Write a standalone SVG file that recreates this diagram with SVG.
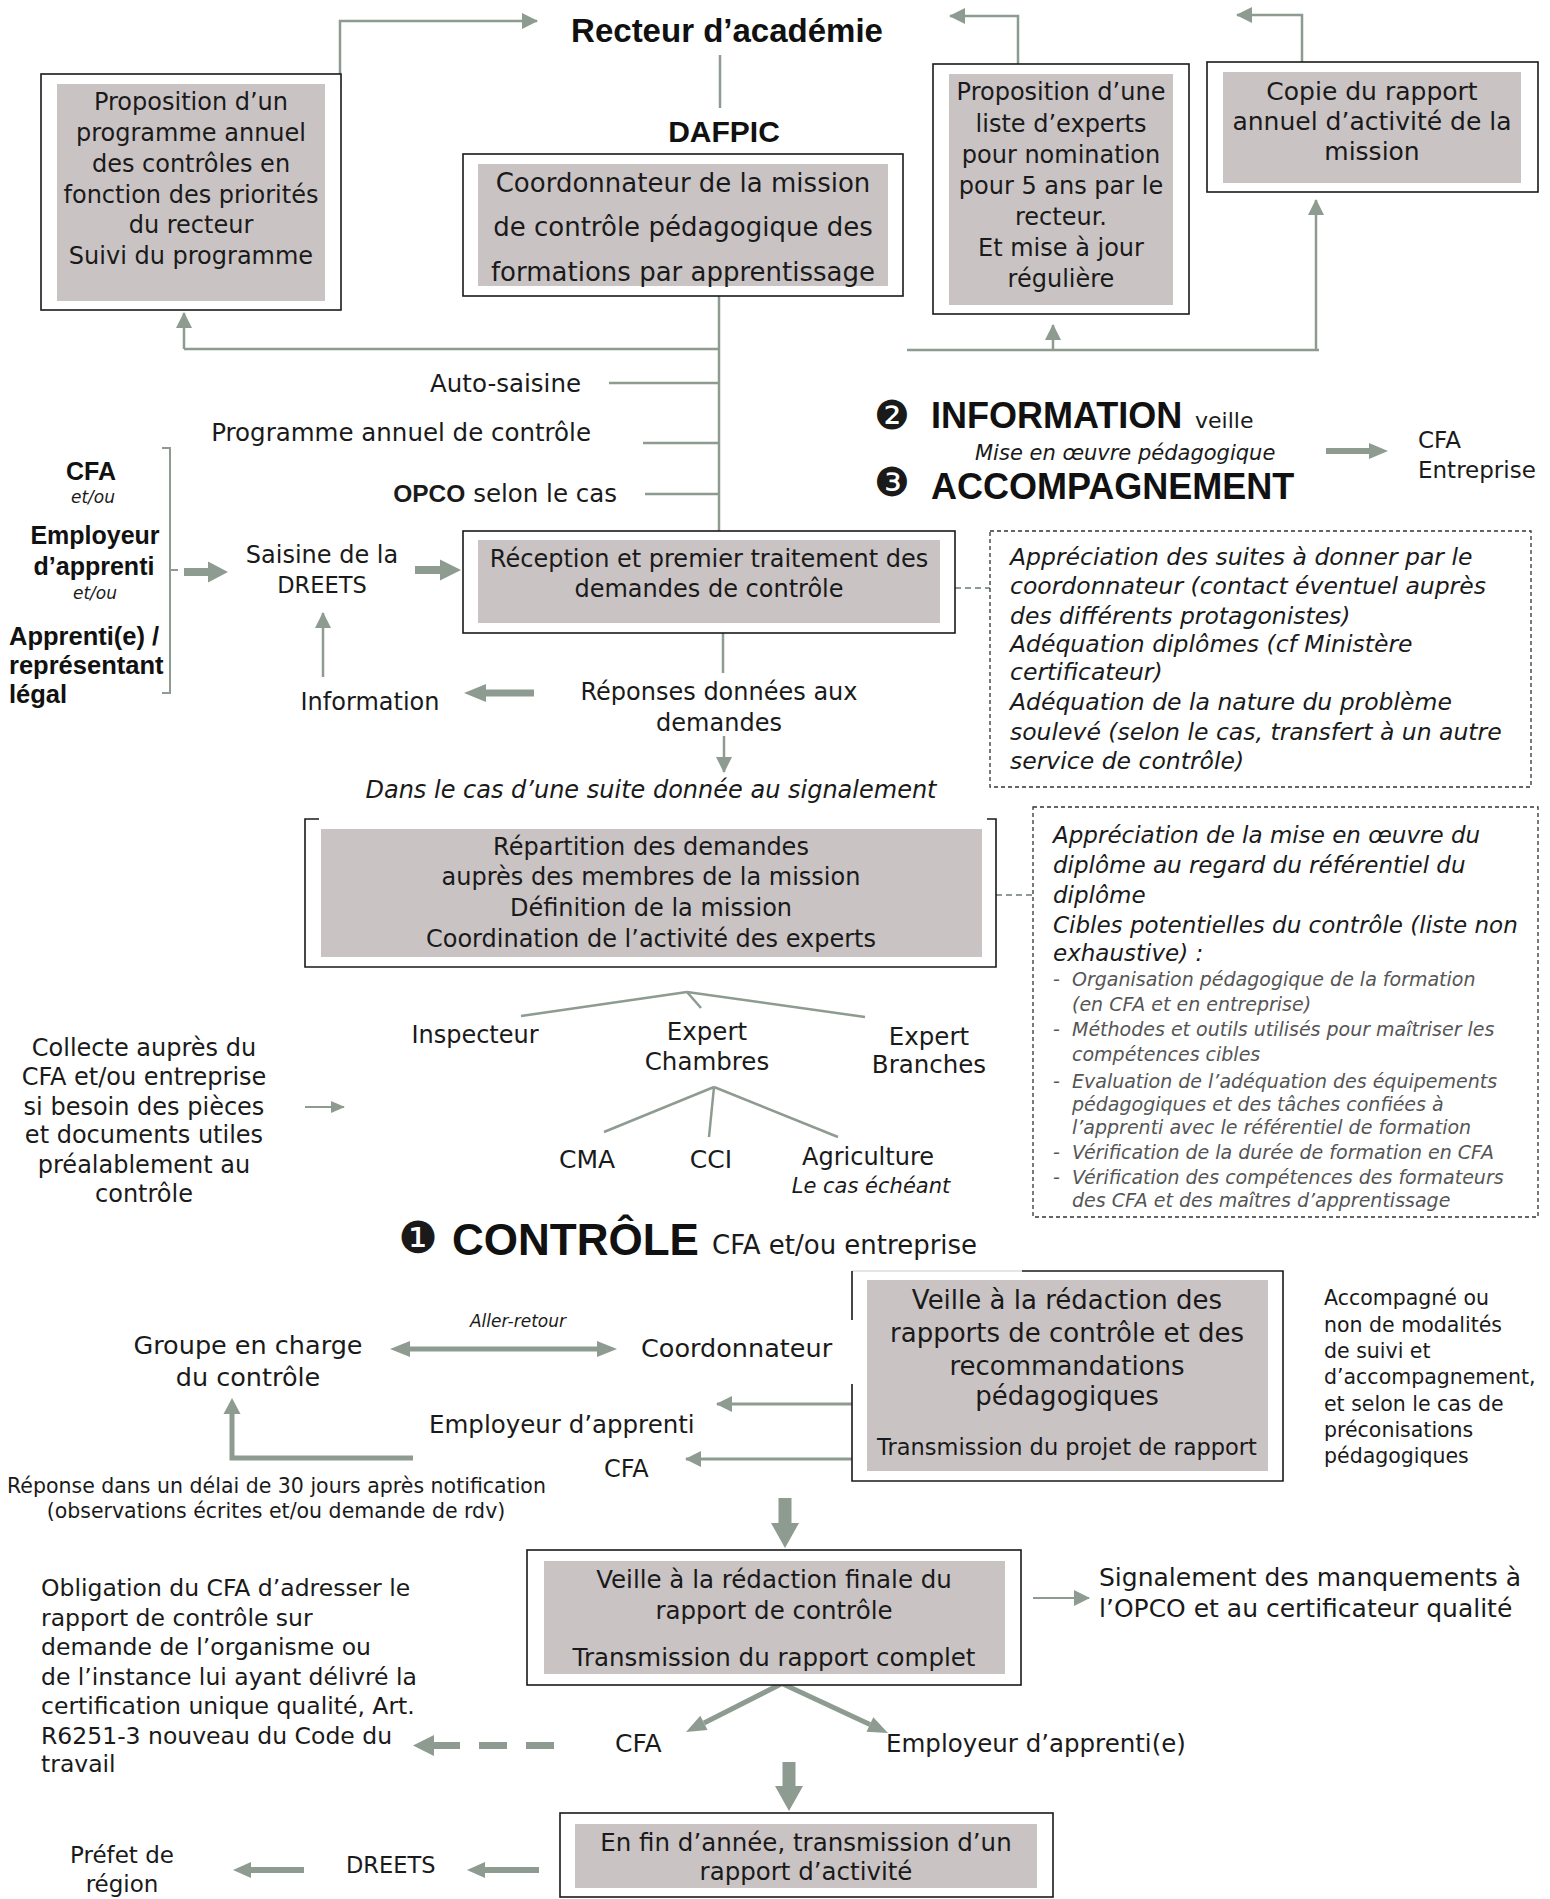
<svg xmlns="http://www.w3.org/2000/svg" width="1550" height="1899" viewBox="0 0 1550 1899">
<defs>
<style>
text{font-family:"DejaVu Sans","Liberation Sans",sans-serif;fill:#1a1a1a}
.b{font-family:"Liberation Sans",Arial,sans-serif;font-weight:bold;fill:#111}
.i{font-style:italic}
.c{text-anchor:middle}
.e{text-anchor:end}
.box{fill:#fff;stroke:#1a1a1a;stroke-width:1.6}
.open{fill:none;stroke:#1a1a1a;stroke-width:1.6}
.gf{fill:#c9c3c4}
.ln{stroke:#8d9b91;stroke-width:2.5;fill:none}
.ar{fill:#8d9b91}
.dbox{fill:none;stroke:#333;stroke-width:1.3;stroke-dasharray:4 3}
.dl{stroke:#8d9b91;stroke-width:2;stroke-dasharray:6 4;fill:none}
.g5{fill:#555}
.w2{stroke-width:2}
.w3{stroke-width:3}
.w5{stroke-width:5}
.w7{stroke-width:7}
</style>
<marker id="ah" markerUnits="userSpaceOnUse" markerWidth="16" markerHeight="16" viewBox="0 0 16 16" refX="15" refY="8" orient="auto"><path d="M0,0 L16,8 L0,16 Z" fill="#8d9b91"/></marker>
<marker id="ahs" markerUnits="userSpaceOnUse" markerWidth="14" markerHeight="12" viewBox="0 0 14 12" refX="13" refY="6" orient="auto"><path d="M0,0 L14,6 L0,12 Z" fill="#8d9b91"/></marker>
</defs>
<rect width="1550" height="1899" fill="#fff"/>

<g id="connectors">
  <line class="ln" x1="720" y1="55" x2="720" y2="108"/>
  <polyline class="ln" points="340,86 340,21 537,21" marker-end="url(#ah)"/>
  <polyline class="ln" points="1018,64 1018,16 950,16" marker-end="url(#ah)"/>
  <polyline class="ln" points="1302,62 1302,15 1237,15" marker-end="url(#ah)"/>
  <line class="ln" x1="719" y1="296" x2="719" y2="531"/>
  <line class="ln" x1="184" y1="349" x2="719" y2="349"/>
  <line class="ln" x1="184" y1="349" x2="184" y2="313" marker-end="url(#ah)"/>
  <line class="ln" x1="907" y1="350" x2="1319" y2="350"/>
  <line class="ln" x1="1053" y1="350" x2="1053" y2="325" marker-end="url(#ah)"/>
  <line class="ln" x1="1316" y1="350" x2="1316" y2="200" marker-end="url(#ah)"/>
  <line class="ln" x1="609" y1="383" x2="719" y2="383"/>
  <line class="ln" x1="643" y1="443" x2="719" y2="443"/>
  <line class="ln" x1="645" y1="494" x2="719" y2="494"/>
  <path class="ar" d="M184,568 H208 V561.5 L228,572 L208,582.5 V576 H184 Z"/>
  <path class="ar" d="M415,566 H440 V559.5 L461,570 L440,580.5 V574 H415 Z"/>
  <path class="ar" d="M534,689.5 H486 V684 L464,693 L486,702 V696.5 H534 Z"/>
  <path class="ar" d="M1326,448 H1369 V443 L1388,451 L1369,459 V454 H1326 Z"/>
  <line class="ln" x1="323" y1="677" x2="323" y2="613" marker-end="url(#ah)"/>
  <line class="dl" x1="955" y1="588" x2="990" y2="588"/>
  <line class="ln" x1="723" y1="633" x2="723" y2="673"/>
  <line class="ln" x1="724" y1="736" x2="724" y2="772" marker-end="url(#ah)"/>
  <line class="dl" x1="996" y1="895" x2="1033" y2="895"/>
  <line class="ln" x1="687" y1="992" x2="521" y2="1016"/>
  <line class="ln" x1="687" y1="992" x2="701" y2="1008"/>
  <line class="ln" x1="687" y1="992" x2="865" y2="1017"/>
  <line class="ln" x1="714" y1="1087" x2="604" y2="1132"/>
  <line class="ln" x1="714" y1="1087" x2="709" y2="1137"/>
  <line class="ln" x1="714" y1="1087" x2="838" y2="1137"/>
  <line class="ln w2" x1="305" y1="1107" x2="344" y2="1107" marker-end="url(#ahs)"/>
  <path class="ar" d="M390,1349 L410,1341 V1346.5 H597 V1341 L617,1349 L597,1357 V1351.5 H410 V1357 Z"/>
  <line class="ln w3" x1="852" y1="1404" x2="717" y2="1404" marker-end="url(#ah)"/>
  <line class="ln w3" x1="852" y1="1459" x2="686" y2="1459" marker-end="url(#ah)"/>
  <path class="ln w5" d="M413,1458 H232 V1412"/>
  <path class="ar" d="M223.5,1414 L232,1398 L240.5,1414 Z"/>
  <path class="ar" d="M778.5,1498 H791.5 V1523 H799 L785,1548 L771,1523 H778.5 Z"/>
  <line class="ln w2" x1="1033" y1="1598" x2="1089" y2="1598" marker-end="url(#ah)"/>
  <line class="ln w5" x1="781" y1="1684" x2="704" y2="1723"/>
  <path class="ar" d="M686,1732 L707.5,1730.1 L700.3,1715.7 Z"/>
  <line class="ln w5" x1="783" y1="1684" x2="870" y2="1724.5"/>
  <path class="ar" d="M888,1733 L866.5,1731.7 L873.3,1717.3 Z"/>
  <line class="ln w7" x1="554" y1="1745.5" x2="433" y2="1745.5" stroke-dasharray="28 19"/>
  <path class="ar" d="M434,1735 L413,1745.5 L434,1756 Z"/>
  <path class="ar" d="M782.5,1762 H795.5 V1786 H803 L789,1811 L775,1786 H782.5 Z"/>
  <path class="ar" d="M539,1867 H485 V1862 L467,1870 L485,1878 V1873 H539 Z"/>
  <path class="ar" d="M304,1867 H251 V1862 L233,1870 L251,1878 V1873 H304 Z"/>
</g>

<g id="n-recteur">
  <text class="b c" x="727" y="42" font-size="33">Recteur d’académie</text>
</g>

<g id="n-dafpic">
  <text class="b c" x="724" y="142" font-size="30">DAFPIC</text>
  <rect class="box" x="463" y="154" width="440" height="142"/>
  <rect class="gf" x="478" y="164" width="410" height="122"/>
  <text class="c" x="683" y="192" font-size="26">Coordonnateur de la mission</text>
  <text class="c" x="683" y="236" font-size="26">de contrôle pédagogique des</text>
  <text class="c" x="683" y="281" font-size="26">formations par apprentissage</text>
</g>

<g id="n-programme">
  <rect class="box" x="41" y="74" width="300" height="236"/>
  <rect class="gf" x="57" y="84" width="268" height="217"/>
  <text class="c" x="191" y="110" font-size="24">Proposition d’un</text>
  <text class="c" x="191" y="141" font-size="24">programme annuel</text>
  <text class="c" x="191" y="172" font-size="24">des contrôles en</text>
  <text class="c" x="191" y="203" font-size="24">fonction des priorités</text>
  <text class="c" x="191" y="233" font-size="24">du recteur</text>
  <text class="c" x="191" y="264" font-size="24">Suivi du programme</text>
</g>

<g id="n-experts">
  <rect class="box" x="933" y="64" width="256" height="250"/>
  <rect class="gf" x="949" y="74" width="224" height="231"/>
  <text class="c" x="1061" y="100" font-size="24">Proposition d’une</text>
  <text class="c" x="1061" y="132" font-size="24">liste d’experts</text>
  <text class="c" x="1061" y="163" font-size="24">pour nomination</text>
  <text class="c" x="1061" y="194" font-size="24">pour 5 ans par le</text>
  <text class="c" x="1061" y="225" font-size="24">recteur.</text>
  <text class="c" x="1061" y="256" font-size="24">Et mise à jour</text>
  <text class="c" x="1061" y="287" font-size="24">régulière</text>
</g>

<g id="n-copie">
  <rect class="box" x="1207" y="62" width="331" height="130"/>
  <rect class="gf" x="1223" y="72" width="298" height="111"/>
  <text class="c" x="1372" y="100" font-size="25">Copie du rapport</text>
  <text class="c" x="1372" y="130" font-size="25">annuel d’activité de la</text>
  <text class="c" x="1372" y="160" font-size="25">mission</text>
</g>

<g id="n-saisines">
  <text class="e" x="581" y="392" font-size="24.5">Auto-saisine</text>
  <text class="e" x="591" y="441" font-size="24.5">Programme annuel de contrôle</text>
  <text class="e" x="617" y="502" font-size="24.5"><tspan font-family="Liberation Sans, Arial, sans-serif" font-weight="bold">OPCO</tspan> selon le cas</text>
</g>

<g id="n-demandeurs">
  <path class="ln w2" d="M162,448 H170 V693 H162 M170,570 H178"/>
  <text class="b c" x="91" y="480" font-size="25">CFA</text>
  <text class="c i" x="93" y="503" font-size="17">et/ou</text>
  <text class="b c" x="95" y="544" font-size="25">Employeur</text>
  <text class="b c" x="94" y="575" font-size="25">d’apprenti</text>
  <text class="c i" x="95" y="599" font-size="17">et/ou</text>
  <text class="b" x="9" y="645" font-size="25.5">Apprenti(e) /</text>
  <text class="b" x="9" y="674" font-size="25.5">représentant</text>
  <text class="b" x="9" y="703" font-size="25.5">légal</text>
</g>

<g id="n-saisine-dreets">
  <text class="c" x="322" y="563" font-size="24">Saisine de la</text>
  <text class="c" x="322" y="593" font-size="22.5">DREETS</text>
</g>

<g id="n-information">
  <text class="c" x="370" y="710" font-size="24">Information</text>
</g>

<g id="n-reception">
  <rect class="box" x="463" y="531" width="492" height="102"/>
  <rect class="gf" x="478" y="540" width="462" height="83"/>
  <text class="c" x="709" y="567" font-size="24">Réception et premier traitement des</text>
  <text class="c" x="709" y="597" font-size="24">demandes de contrôle</text>
</g>

<g id="n-note1">
  <rect class="dbox" x="990" y="531" width="541" height="256"/>
  <text class="i" x="1010" y="565" font-size="23.5">Appréciation des suites à donner par le</text>
  <text class="i" x="1010" y="594" font-size="23.5">coordonnateur (contact éventuel auprès</text>
  <text class="i" x="1010" y="624" font-size="23.5">des différents protagonistes)</text>
  <text class="i" x="1010" y="652" font-size="23.5">Adéquation diplômes (cf Ministère</text>
  <text class="i" x="1010" y="680" font-size="23.5">certificateur)</text>
  <text class="i" x="1010" y="710" font-size="23.5">Adéquation de la nature du problème</text>
  <text class="i" x="1010" y="740" font-size="23.5">soulevé (selon le cas, transfert à un autre</text>
  <text class="i" x="1010" y="769" font-size="23.5">service de contrôle)</text>
</g>

<g id="n-info-accomp">
  <text class="c" x="892" y="429" font-size="40">❷</text>
  <text class="b" x="931" y="428" font-size="36">INFORMATION</text>
  <text x="1195" y="428" font-size="22">veille</text>
  <text class="i" x="975" y="460" font-size="21">Mise en œuvre pédagogique</text>
  <text class="c" x="892" y="496" font-size="40">❸</text>
  <text class="b" x="931" y="499" font-size="36">ACCOMPAGNEMENT</text>
</g>

<g id="n-cfa-entreprise">
  <text x="1418" y="448" font-size="23">CFA</text>
  <text x="1418" y="478" font-size="23">Entreprise</text>
</g>

<g id="n-reponses">
  <text class="c" x="719" y="700" font-size="24">Réponses données aux</text>
  <text class="c" x="719" y="731" font-size="24">demandes</text>
</g>

<g id="n-suite">
  <text class="c i" x="651" y="798" font-size="24">Dans le cas d’une suite donnée au signalement</text>
</g>

<g id="n-repartition">
  <path class="open" d="M319,819 H305 V967 H996 V819 H987"/>
  <rect class="gf" x="321" y="829" width="661" height="128"/>
  <text class="c" x="651" y="855" font-size="24">Répartition des demandes</text>
  <text class="c" x="651" y="885" font-size="24">auprès des membres de la mission</text>
  <text class="c" x="651" y="916" font-size="24">Définition de la mission</text>
  <text class="c" x="651" y="947" font-size="24">Coordination de l’activité des experts</text>
</g>

<g id="n-note2">
  <rect class="dbox" x="1033" y="807" width="505" height="410"/>
  <text class="i" x="1053" y="843" font-size="23">Appréciation de la mise en œuvre du</text>
  <text class="i" x="1053" y="873" font-size="23">diplôme au regard du référentiel du</text>
  <text class="i" x="1053" y="903" font-size="23">diplôme</text>
  <text class="i" x="1053" y="933" font-size="23">Cibles potentielles du contrôle (liste non</text>
  <text class="i" x="1053" y="961" font-size="23">exhaustive) :</text>
  <g font-size="19">
    <text class="i g5" x="1053" y="986">-</text>
    <text class="i g5" x="1072" y="986">Organisation pédagogique de la formation</text>
    <text class="i g5" x="1072" y="1011">(en CFA et en entreprise)</text>
    <text class="i g5" x="1053" y="1036">-</text>
    <text class="i g5" x="1072" y="1036">Méthodes et outils utilisés pour maîtriser les</text>
    <text class="i g5" x="1072" y="1061">compétences cibles</text>
    <text class="i g5" x="1053" y="1088">-</text>
    <text class="i g5" x="1072" y="1088">Evaluation de l’adéquation des équipements</text>
    <text class="i g5" x="1072" y="1111">pédagogiques et des tâches confiées à</text>
    <text class="i g5" x="1072" y="1134">l’apprenti avec le référentiel de formation</text>
    <text class="i g5" x="1053" y="1159">-</text>
    <text class="i g5" x="1072" y="1159">Vérification de la durée de formation en CFA</text>
    <text class="i g5" x="1053" y="1184">-</text>
    <text class="i g5" x="1072" y="1184">Vérification des compétences des formateurs</text>
    <text class="i g5" x="1072" y="1207">des CFA et des maîtres d’apprentissage</text>
  </g>
</g>

<g id="n-inspecteur"><text class="c" x="475" y="1043" font-size="24">Inspecteur</text></g>
<g id="n-expert-chambres">
  <text class="c" x="707" y="1040" font-size="24.5">Expert</text>
  <text class="c" x="707" y="1070" font-size="24.5">Chambres</text>
</g>
<g id="n-expert-branches">
  <text class="c" x="929" y="1045" font-size="24.5">Expert</text>
  <text class="c" x="929" y="1073" font-size="24.5">Branches</text>
</g>
<g id="n-cma"><text class="c" x="587" y="1168" font-size="25">CMA</text></g>
<g id="n-cci"><text class="c" x="711" y="1168" font-size="25">CCI</text></g>
<g id="n-agriculture">
  <text class="c" x="868" y="1165" font-size="24">Agriculture</text>
  <text class="c i" x="871" y="1193" font-size="21">Le cas échéant</text>
</g>

<g id="n-collecte">
  <text class="c" x="144" y="1056" font-size="24">Collecte auprès du</text>
  <text class="c" x="144" y="1085" font-size="24">CFA et/ou entreprise</text>
  <text class="c" x="144" y="1115" font-size="24">si besoin des pièces</text>
  <text class="c" x="144" y="1143" font-size="24">et documents utiles</text>
  <text class="c" x="144" y="1173" font-size="24">préalablement au</text>
  <text class="c" x="144" y="1202" font-size="24">contrôle</text>
</g>

<g id="n-controle">
  <text class="c" x="418" y="1253" font-size="44">❶</text>
  <text class="b" x="452" y="1255" font-size="44">CONTRÔLE</text>
  <text x="712" y="1254" font-size="26">CFA et/ou entreprise</text>
</g>

<g id="n-veille1">
  <path d="M852,1271 H1022" stroke="#ddd" stroke-width="1.4" fill="none"/>
  <path class="open" d="M1022,1271 H1283 V1481 H852 V1384 M852,1320 V1271"/>
  <rect class="gf" x="867" y="1280" width="401" height="191"/>
  <text class="c" x="1067" y="1309" font-size="26">Veille à la rédaction des</text>
  <text class="c" x="1067" y="1342" font-size="26">rapports de contrôle et des</text>
  <text class="c" x="1067" y="1375" font-size="26">recommandations</text>
  <text class="c" x="1067" y="1405" font-size="26">pédagogiques</text>
  <text class="c" x="1067" y="1455" font-size="22.5">Transmission du projet de rapport</text>
</g>

<g id="n-accompagne" font-size="20.5">
  <text x="1324" y="1305">Accompagné ou</text>
  <text x="1324" y="1332">non de modalités</text>
  <text x="1324" y="1358">de suivi et</text>
  <text x="1324" y="1384">d’accompagnement,</text>
  <text x="1324" y="1411">et selon le cas de</text>
  <text x="1324" y="1437">préconisations</text>
  <text x="1324" y="1463">pédagogiques</text>
</g>

<g id="n-aller-retour"><text class="c i" x="518" y="1327" font-size="17">Aller-retour</text></g>
<g id="n-groupe">
  <text class="c" x="248" y="1354" font-size="25.5">Groupe en charge</text>
  <text class="c" x="248" y="1386" font-size="25.5">du contrôle</text>
</g>
<g id="n-coordonnateur"><text x="641" y="1357" font-size="25.5">Coordonnateur</text></g>
<g id="n-employeur1"><text x="429" y="1433" font-size="24.5">Employeur d’apprenti</text></g>
<g id="n-cfa1"><text x="604" y="1477" font-size="24">CFA</text></g>
<g id="n-delai">
  <text x="7" y="1493" font-size="20.5">Réponse dans un délai de 30 jours après notification</text>
  <text class="c" x="276" y="1518" font-size="20.5">(observations écrites et/ou demande de rdv)</text>
</g>

<g id="n-veille2">
  <rect class="box" x="527" y="1550" width="494" height="135"/>
  <rect class="gf" x="544" y="1561" width="461" height="113"/>
  <text class="c" x="774" y="1588" font-size="24.5">Veille à la rédaction finale du</text>
  <text class="c" x="774" y="1619" font-size="24.5">rapport de contrôle</text>
  <text class="c" x="774" y="1666" font-size="24.5">Transmission du rapport complet</text>
</g>

<g id="n-signalement">
  <text x="1099" y="1586" font-size="25">Signalement des manquements à</text>
  <text x="1099" y="1617" font-size="25">l’OPCO et au certificateur qualité</text>
</g>

<g id="n-cfa2"><text x="615" y="1752" font-size="25">CFA</text></g>
<g id="n-employeur2"><text x="886" y="1752" font-size="24.5">Employeur d’apprenti(e)</text></g>

<g id="n-obligation" font-size="23.5">
  <text x="41" y="1596">Obligation du CFA d’adresser le</text>
  <text x="41" y="1626">rapport de contrôle sur</text>
  <text x="41" y="1655">demande de l’organisme ou</text>
  <text x="41" y="1685">de l’instance lui ayant délivré la</text>
  <text x="41" y="1714">certification unique qualité, Art.</text>
  <text x="41" y="1744">R6251-3 nouveau du Code du</text>
  <text x="41" y="1772">travail</text>
</g>

<g id="n-fin">
  <rect class="box" x="560" y="1813" width="493" height="84"/>
  <rect class="gf" x="575" y="1824" width="462" height="64"/>
  <text class="c" x="806" y="1851" font-size="24.5">En fin d’année, transmission d’un</text>
  <text class="c" x="806" y="1880" font-size="24.5">rapport d’activité</text>
</g>

<g id="n-dreets2"><text x="346" y="1873" font-size="22.5">DREETS</text></g>
<g id="n-prefet">
  <text class="c" x="122" y="1863" font-size="23">Préfet de</text>
  <text class="c" x="122" y="1892" font-size="23">région</text>
</g>
</svg>
